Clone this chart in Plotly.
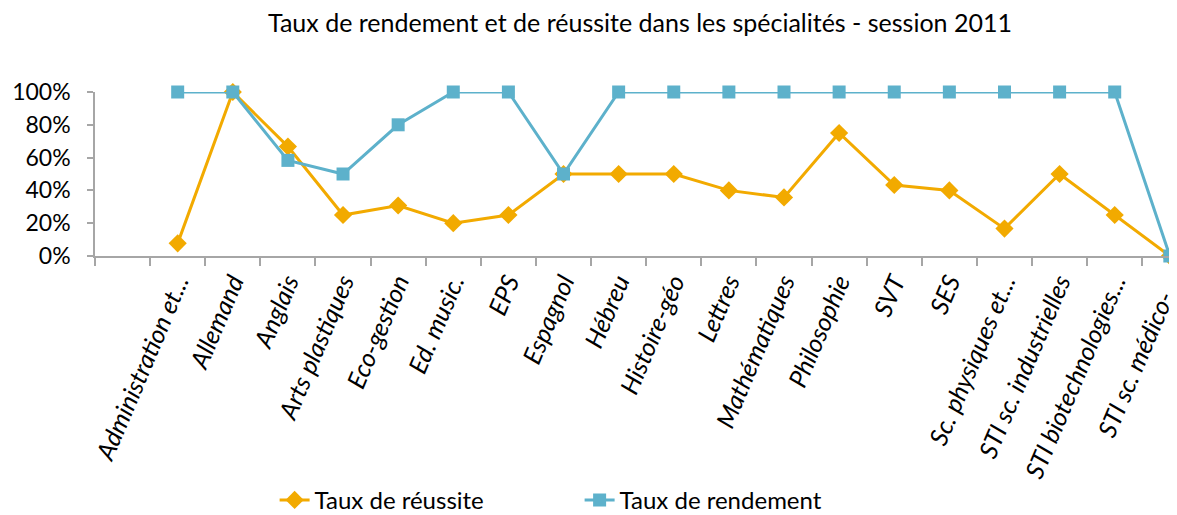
import plotly.graph_objects as go

categories = [" ", "Administration et...", "Allemand", "Anglais", "Arts plastiques", "Eco-gestion",
              "Ed. music.", "EPS", "Espagnol", "Hébreu", "Histoire-géo", "Lettres",
              "Mathématiques", "Philosophie", "SVT", "SES", "Sc. physiques et...",
              "STI sc. industrielles", "STI biotechnologies...", "STI sc. médico-..."]

taux_reussite = [None, 0.077, 1.0, 0.667, 0.25, 0.308, 0.20, 0.25, 0.50, 0.50, 0.50, 0.40,
                 0.357, 0.75, 0.433, 0.40, 0.167, 0.50, 0.25, 0.0]
taux_rendement = [None, 1.0, 1.0, 0.583, 0.50, 0.80, 1.0, 1.0, 0.50, 1.0, 1.0, 1.0,
                  1.0, 1.0, 1.0, 1.0, 1.0, 1.0, 1.0, 0.0]

y_ticks = [0, 0.2, 0.4, 0.6, 0.8, 1.0]

ORANGE = "#F2AA00"
BLUE = "#5DB1CB"
FONT = "Lato, Carlito, Calibri, sans-serif"

W, H = 1169, 507  # page body has an 8px margin

fig = go.Figure()
fig.add_trace(go.Scatter(
    x=categories, y=taux_reussite, name="Taux de réussite", mode="lines+markers",
    line=dict(color=ORANGE, width=3),
    marker=dict(symbol="diamond", size=14, color=ORANGE),
    cliponaxis=False,
))
fig.add_trace(go.Scatter(
    x=categories, y=taux_rendement, name="Taux de rendement", mode="lines+markers",
    line=dict(color=BLUE, width=3),
    marker=dict(symbol="square", size=13, color=BLUE),
    cliponaxis=False,
))

fig.update_layout(
    width=W, height=H,
    margin=dict(l=87, r=0, t=84, b=259, autoexpand=False),
    paper_bgcolor="white", plot_bgcolor="white",
    font=dict(family=FONT, color="black"),
    title=dict(text="Taux de rendement et de réussite dans les spécialités - session 2011",
               x=632 / W, xref="container", xanchor="center",
               y=1 - 15 / H, yref="container", yanchor="middle",
               font=dict(size=25, color="black", family=FONT)),
    showlegend=True,
    legend=dict(orientation="h", x=0.166, xanchor="left", y=-1.49, yanchor="middle",
                font=dict(size=24, family=FONT, color="black"),
                entrywidth=260, entrywidthmode="pixels",
                bgcolor="rgba(0,0,0,0)"),
)

fig.update_xaxes(
    type="category", categoryorder="array", categoryarray=categories,
    range=[-0.5, 19.13], automargin=False,
    showgrid=False, showline=True, linecolor="#A6A6A6", linewidth=1.5,
    ticks="outside", ticklen=8, tickcolor="#A6A6A6", tickwidth=1.5,
    tickson="boundaries",
    tickangle=-67,
    tickfont=dict(size=25, family=FONT, color="black", style="italic"),
    zeroline=False,
)
fig.update_yaxes(
    range=[0, 1], tickvals=y_ticks, tickformat=".0%", automargin=False,
    showgrid=False, showline=True, linecolor="#A6A6A6", linewidth=1.5,
    ticks="outside", ticklen=6, tickcolor="#A6A6A6", tickwidth=1.5,
    ticklabelstandoff=12,
    tickfont=dict(size=23, family=FONT, color="black"),
    zeroline=False,
)

fig.write_html("out.html")
